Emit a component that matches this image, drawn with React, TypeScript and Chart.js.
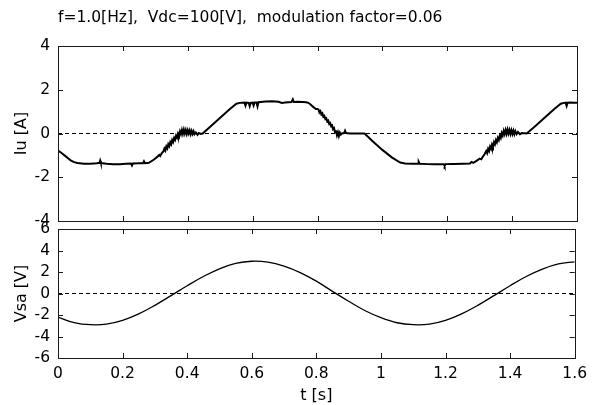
import React, { useEffect, useRef } from "react";
import { Chart, registerables } from "chart.js";

Chart.register(...registerables);

const TITLE = "f=1.0[Hz],  Vdc=100[V],  modulation factor=0.06";
const X_TITLE = "t [s]";
const IU_TITLE = "Iu [A]";
const VSA_TITLE = "Vsa [V]";

const xTickValues = [0, 0.2, 0.4, 0.6, 0.8, 1.0, 1.2, 1.4, 1.6];
const xTickLabels = ["0", "0.2", "0.4", "0.6", "0.8", "1", "1.2", "1.4", "1.6"];
const iuTickValues = [-4, -2, 0, 2, 4];
const vsaTickValues = [-6, -4, -2, 0, 2, 4, 6];

// Iu [A] vs t [s] (including visible switching ripple)
const iuSamples: [number, number][] = [
  [0.000, -0.78], [0.010, -0.88], [0.020, -1.00], [0.030, -1.12], [0.040, -1.24], [0.050, -1.31],
  [0.060, -1.35], [0.080, -1.38], [0.100, -1.38], [0.120, -1.36], [0.128, -1.34], [0.130, -1.24],
  [0.132, -1.35], [0.150, -1.38], [0.170, -1.40], [0.190, -1.40], [0.210, -1.38], [0.225, -1.37],
  [0.228, -1.46], [0.231, -1.37], [0.250, -1.36], [0.262, -1.36], [0.265, -1.27], [0.268, -1.36],
  [0.280, -1.34], [0.295, -1.20], [0.305, -1.08], [0.312, -0.98], [0.315, -1.03], [0.320, -0.90],
  [0.325, -0.82], [0.328, -0.69], [0.331, -0.78], [0.334, -0.59], [0.337, -0.68], [0.340, -0.49],
  [0.343, -0.58], [0.346, -0.40], [0.349, -0.49], [0.352, -0.30], [0.355, -0.39], [0.358, -0.20],
  [0.361, -0.29], [0.364, -0.10], [0.367, -0.19], [0.370, 0.00], [0.373, -0.09], [0.376, 0.10],
  [0.379, -0.03], [0.382, 0.16], [0.385, -0.02], [0.388, 0.18], [0.391, 0.00], [0.394, 0.16],
  [0.397, -0.02], [0.400, 0.15], [0.403, 0.00], [0.406, 0.14], [0.409, -0.03], [0.412, 0.12],
  [0.415, -0.02], [0.418, 0.10], [0.421, -0.03], [0.425, 0.05], [0.430, -0.06], [0.434, 0.02],
  [0.440, -0.02], [0.446, 0.00], [0.470, 0.32], [0.500, 0.72], [0.530, 1.12], [0.550, 1.36],
  [0.560, 1.40], [0.575, 1.41], [0.578, 1.27], [0.581, 1.41], [0.588, 1.40], [0.591, 1.25],
  [0.594, 1.40], [0.600, 1.41], [0.603, 1.28], [0.606, 1.42], [0.612, 1.42], [0.615, 1.24],
  [0.618, 1.43], [0.640, 1.46], [0.660, 1.47], [0.680, 1.45], [0.690, 1.40], [0.700, 1.42],
  [0.720, 1.44], [0.724, 1.56], [0.727, 1.44], [0.740, 1.45], [0.755, 1.44], [0.765, 1.43],
  [0.772, 1.40], [0.778, 1.34], [0.785, 1.24], [0.790, 1.18], [0.795, 1.12], [0.800, 1.12],
  [0.803, 1.10], [0.806, 0.96], [0.809, 1.02], [0.812, 0.87], [0.815, 0.92], [0.818, 0.77],
  [0.821, 0.81], [0.824, 0.66], [0.827, 0.70], [0.830, 0.55], [0.833, 0.59], [0.836, 0.44],
  [0.839, 0.48], [0.842, 0.33], [0.845, 0.37], [0.848, 0.20], [0.851, 0.25], [0.854, 0.06],
  [0.857, 0.14], [0.860, -0.08], [0.863, 0.06], [0.866, -0.12], [0.869, 0.04], [0.872, -0.05],
  [0.875, 0.00], [0.882, 0.02], [0.885, 0.13], [0.888, 0.02], [0.900, 0.00], [0.920, 0.00],
  [0.945, 0.00], [0.970, -0.35], [1.000, -0.75], [1.030, -1.10], [1.055, -1.33], [1.070, -1.37],
  [1.090, -1.38], [1.110, -1.38], [1.112, -1.29], [1.115, -1.38], [1.140, -1.40], [1.160, -1.41],
  [1.180, -1.40], [1.190, -1.40], [1.192, -1.48], [1.195, -1.40], [1.220, -1.39], [1.250, -1.38],
  [1.270, -1.37], [1.275, -1.30], [1.280, -1.34], [1.290, -1.25], [1.300, -1.15], [1.305, -1.18],
  [1.310, -1.05], [1.315, -0.95], [1.320, -0.80], [1.323, -0.90], [1.326, -0.70], [1.329, -0.80],
  [1.332, -0.60], [1.335, -0.70], [1.338, -0.50], [1.341, -0.60], [1.344, -0.40], [1.347, -0.50],
  [1.350, -0.30], [1.353, -0.40], [1.356, -0.20], [1.359, -0.30], [1.362, -0.10], [1.365, -0.20],
  [1.368, 0.02], [1.371, -0.09], [1.374, 0.12], [1.377, -0.03], [1.380, 0.16], [1.383, -0.02],
  [1.386, 0.18], [1.389, 0.00], [1.392, 0.16], [1.395, -0.02], [1.398, 0.15], [1.401, -0.02],
  [1.404, 0.13], [1.407, -0.03], [1.410, 0.11], [1.414, -0.03], [1.418, 0.07], [1.424, -0.03],
  [1.430, 0.02], [1.445, 0.00], [1.470, 0.32], [1.500, 0.72], [1.530, 1.12], [1.550, 1.36],
  [1.560, 1.40], [1.565, 1.41], [1.568, 1.26], [1.571, 1.41], [1.580, 1.42], [1.590, 1.41],
  [1.600, 1.40],
];

// Vsa [V] vs t [s]
const vsaTime = [
  0, 0.05, 0.1, 0.15, 0.2, 0.25, 0.3, 0.35, 0.4, 0.45, 0.5, 0.55, 0.6, 0.65, 0.7, 0.75, 0.8,
  0.85, 0.9, 0.95, 1.0, 1.05, 1.1, 1.15, 1.2, 1.25, 1.3, 1.35, 1.4, 1.45, 1.5, 1.55, 1.6,
];
const vsaValue = [
  -2.2, -2.7, -2.9, -2.85, -2.5, -1.9, -1.1, -0.2, 0.72, 1.58, 2.3, 2.8, 3.0, 2.92, 2.55, 1.95, 1.15,
  0.2, -0.72, -1.58, -2.25, -2.72, -2.9, -2.85, -2.5, -1.9, -1.1, -0.2, 0.72, 1.58, 2.27, 2.75, 2.95,
];

const zeroLineTime = [0, 1.6];
const zeroLineValue = [0, 0];

const FONT = "'DejaVu Sans', 'Liberation Sans', Arial, sans-serif";
const W = 594;
const H = 405;

const framePlugin = {
  id: "frame",
  afterDatasetsDraw(chart: any, _args: any, opts: any) {
    const { ctx, chartArea, scales } = chart;
    const { left, right, top, bottom } = chartArea;
    ctx.save();
    ctx.strokeStyle = "#1a1a1a";
    ctx.lineWidth = 1;
    ctx.strokeRect(Math.round(left) + 0.5, Math.round(top) + 0.5, Math.round(right - left), Math.round(bottom - top));
    const L = 5;
    ctx.beginPath();
    for (const v of opts.xTicks || []) {
      const px = Math.round(scales.x.getPixelForValue(v)) + 0.5;
      ctx.moveTo(px, top);
      ctx.lineTo(px, top + L);
      ctx.moveTo(px, bottom);
      ctx.lineTo(px, bottom - L);
    }
    for (const v of opts.yTicks || []) {
      const py = Math.round(scales.y.getPixelForValue(v)) + 0.5;
      ctx.moveTo(left, py);
      ctx.lineTo(left + L, py);
      ctx.moveTo(right, py);
      ctx.lineTo(right - L, py);
    }
    ctx.stroke();
    ctx.restore();
  },
};

function yScale(min: number, max: number, ticks: number[], title: string) {
  return {
    type: "linear",
    min,
    max,
    afterBuildTicks(scale: any) {
      scale.ticks = ticks.map((v) => ({ value: v }));
    },
    afterFit(scale: any) {
      scale.width = 58;
    },
    grid: { display: false, drawTicks: false },
    border: { display: false },
    ticks: {
      color: "#000",
      padding: 8,
      autoSkip: false,
      font: { family: FONT, size: 15.5 },
      callback: (v: any) => String(v),
    },
    title: {
      display: true,
      text: title,
      color: "#000",
      font: { family: FONT, size: 16 },
      padding: { top: 12, bottom: 0 },
    },
  };
}

export default function App() {
  const topRef = useRef<HTMLCanvasElement | null>(null);
  const botRef = useRef<HTMLCanvasElement | null>(null);

  useEffect(() => {
    document.body.style.margin = "0";
    const topChart = new Chart(topRef.current as HTMLCanvasElement, {
      type: "line",
      data: {
        datasets: [
          {
            data: zeroLineTime.map((t, i) => ({ x: t, y: zeroLineValue[i] })),
            borderColor: "#000",
            borderWidth: 1,
            borderDash: [4, 3],
            pointRadius: 0,
          },
          {
            data: iuSamples.map(([t, v]) => ({ x: t, y: v })),
            borderColor: "#000",
            borderWidth: 2,
            pointRadius: 0,
            tension: 0,
          },
        ],
      },
      options: {
        animation: false,
        responsive: false,
        events: [],
        layout: { padding: { left: 0, right: 17, top: 0, bottom: 184 } },
        plugins: {
          legend: { display: false },
          tooltip: { enabled: false },
          title: {
            display: true,
            text: TITLE,
            align: "start",
            fullSize: false,
            color: "#000",
            font: { family: FONT, size: 15.5, weight: "normal" },
            padding: { top: 8.5, bottom: 18.9 },
          },
          frame: { xTicks: xTickValues, yTicks: iuTickValues },
        } as any,
        scales: {
          x: { type: "linear", min: 0, max: 1.6, display: false },
          y: yScale(-4, 4, iuTickValues, IU_TITLE) as any,
        },
      },
      plugins: [framePlugin],
    } as any);

    const botChart = new Chart(botRef.current as HTMLCanvasElement, {
      type: "line",
      data: {
        datasets: [
          {
            data: zeroLineTime.map((t, i) => ({ x: t, y: zeroLineValue[i] })),
            borderColor: "#000",
            borderWidth: 1,
            borderDash: [4, 3],
            pointRadius: 0,
          },
          {
            data: vsaTime.map((t, i) => ({ x: t, y: vsaValue[i] })),
            borderColor: "#000",
            borderWidth: 1.3,
            pointRadius: 0,
            tension: 0.4,
          },
        ],
      },
      options: {
        animation: false,
        responsive: false,
        events: [],
        layout: { padding: { left: 0, right: 17, top: 229, bottom: 0 } },
        plugins: {
          legend: { display: false },
          tooltip: { enabled: false },
          frame: { xTicks: xTickValues, yTicks: vsaTickValues },
        } as any,
        scales: {
          x: {
            type: "linear",
            min: 0,
            max: 1.6,
            afterBuildTicks(scale: any) {
              scale.ticks = xTickValues.map((v) => ({ value: v }));
            },
            afterFit(scale: any) {
              scale.height = 47;
            },
            grid: { display: false, drawTicks: false },
            border: { display: false },
            ticks: {
              color: "#000",
              padding: 7,
              autoSkip: false,
              maxRotation: 0,
              font: { family: FONT, size: 15.5 },
              callback: (_v: any, i: number) => xTickLabels[i],
            },
            title: {
              display: true,
              text: X_TITLE,
              color: "#000",
              font: { family: FONT, size: 16 },
              padding: { top: 0, bottom: 0 },
            },
          },
          y: yScale(-6, 6, vsaTickValues, VSA_TITLE) as any,
        },
      },
      plugins: [framePlugin],
    } as any);

    return () => {
      topChart.destroy();
      botChart.destroy();
    };
  }, []);

  return (
    <div style={{ position: "relative", width: W, height: H, background: "#fff" }}>
      <canvas ref={topRef} width={W} height={H} style={{ position: "absolute", left: 0, top: 0 }} />
      <canvas ref={botRef} width={W} height={H} style={{ position: "absolute", left: 0, top: 0 }} />
    </div>
  );
}
